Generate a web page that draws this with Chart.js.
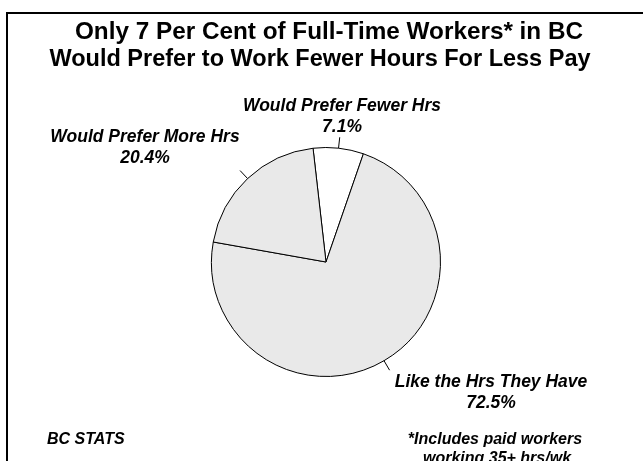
<!DOCTYPE html>
<html>
<head>
<meta charset="utf-8">
<script src="https://cdn.jsdelivr.net/npm/chart.js@4"></script>
<style>
  html, body { margin: 0; padding: 0; background: #fff; }
  #wrap { width: 643px; height: 461px; }
</style>
</head>
<body>
<div id="wrap"><canvas id="chart" width="643" height="461"></canvas></div>
<script>
// data
const categories = ['Would Prefer Fewer Hrs', 'Like the Hrs They Have', 'Would Prefer More Hrs'];
const shares = [7.1, 72.5, 20.4];
const sliceColors = ['#ffffff', '#e9e9e9', '#e9e9e9'];
const titleLines = ['Only 7 Per Cent of Full-Time Workers* in BC', 'Would Prefer to Work Fewer Hours For Less Pay'];
const sourceText = 'BC STATS';
const noteLines = ['*Includes paid workers', 'working 35+ hrs/wk'];

// where each slice label sits (centre x, baseline of first line)
const labelPos = [
    { x: 342, y: 111 },
    { x: 491, y: 387 },
    { x: 145, y: 142 }
];

const textPlugin = {
    id: 'textPlugin',
    afterDraw(chart) {
        const ctx = chart.ctx;
        ctx.save();

        // frame
        ctx.fillStyle = '#000';
        ctx.fillRect(6, 12, 643 - 6, 2);
        ctx.fillRect(6, 12, 2, 461 - 12);

        // title
        ctx.textAlign = 'center';
        ctx.textBaseline = 'alphabetic';
        ctx.font = 'bold 24.3px "Liberation Sans", Arial, sans-serif';
        ctx.fillText(titleLines[0], 329, 39);
        ctx.font = 'bold 23.5px "Liberation Sans", Arial, sans-serif';
        ctx.fillText(titleLines[1], 320, 66);

        // leader ticks + slice labels
        const meta = chart.getDatasetMeta(0);
        ctx.lineWidth = 1;
        ctx.strokeStyle = '#000';
        meta.data.forEach((arc, i) => {
            const p = arc.getProps(['x', 'y', 'startAngle', 'endAngle', 'outerRadius'], true);
            const mid = (p.startAngle + p.endAngle) / 2;
            const r1 = p.outerRadius, r2 = p.outerRadius + 11;
            ctx.beginPath();
            ctx.moveTo(p.x + Math.cos(mid) * r1, p.y + Math.sin(mid) * r1);
            ctx.lineTo(p.x + Math.cos(mid) * r2, p.y + Math.sin(mid) * r2);
            ctx.stroke();

            ctx.font = 'italic bold 17.5px "Liberation Sans", Arial, sans-serif';
            ctx.fillText(categories[i], labelPos[i].x, labelPos[i].y);
            ctx.fillText(shares[i].toFixed(1) + '%', labelPos[i].x, labelPos[i].y + 21);
        });

        // source and footnote
        ctx.font = 'italic bold 16px "Liberation Sans", Arial, sans-serif';
        ctx.textAlign = 'left';
        ctx.fillText(sourceText, 47, 444);
        ctx.textAlign = 'center';
        ctx.fillText(noteLines[0], 495, 444);
        ctx.fillText(noteLines[1], 497, 463);

        ctx.restore();
    }
};

new Chart(document.getElementById('chart').getContext('2d'), {
    type: 'pie',
    data: {
        labels: categories,
        datasets: [{
            data: shares,
            backgroundColor: sliceColors,
            borderColor: '#000',
            borderWidth: 1,
            borderAlign: 'center'
        }]
    },
    options: {
        responsive: false,
        animation: false,
        rotation: -6.5,
        layout: { padding: { left: 211, right: 202, top: 147, bottom: 84 } },
        plugins: {
            legend: { display: false },
            title: { display: false },
            tooltip: { enabled: false }
        }
    },
    plugins: [textPlugin]
});
</script>
</body>
</html>
